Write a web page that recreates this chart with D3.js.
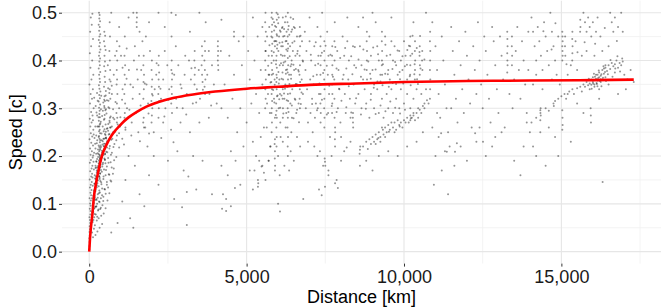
<!DOCTYPE html>
<html>
<head>
<meta charset="utf-8">
<script src="https://cdn.jsdelivr.net/npm/d3@7"></script>
<style>
  body { margin: 0; background: #fff; }
  text { font-family: "Liberation Sans", Arial, sans-serif; }
</style>
</head>
<body>
<div id="chart"></div>
<script>
// observations, [distance km, speed c], grouped by the region of the plot they sit in
const nearAxis = [[3,.005],[8,.012],[12,.02],[5,.028],[18,.034],[10,.041],[25,.047],[15,.053],[30,.06],[22,.066],[8,.072],[35,.078],[40,.085],[18,.09],[45,.096],[28,.101],[52,.107],[12,.112],[60,.118],[38,.123],[70,.129],[24,.134],[48,.14],[80,.146],[15,.151],[62,.157],[90,.163],[33,.168],[75,.174],[100,.18],[20,.186],[55,.192],[110,.197],[42,.203],[85,.21],[28,.216],[120,.222],[65,.228],[10,.235],[95,.241],[50,.248],[130,.255],[35,.262],[75,.27],[18,.278],[105,.285],[60,.292],[140,.3],[25,.31],[88,.32],[45,.33],[115,.34],[8,.35],[70,.36],[130,.37],[38,.385],[95,.4],[20,.415],[60,.43],[120,.445],[30,.46],[80,.475],[50,.49],[100,.498]];

const streakNear = [[310,.5],[330,.495],[320,.488],[345,.482],[300,.475],[335,.47],[315,.462],[350,.455],[325,.45],[305,.443],[340,.437],[318,.43],[355,.423],[328,.417],[310,.41],[345,.404],[322,.398],[336,.39],[302,.383],[350,.376],[315,.37],[330,.362],[342,.355],[308,.348],[325,.341],[355,.335],[318,.328],[338,.321],[300,.314],[347,.308],[312,.301],[330,.295],[322,.288],[340,.281],[305,.274],[352,.268],[318,.262],[334,.255],[345,.248],[310,.242],[326,.236],[338,.229],[300,.222],[350,.216],[316,.21],[330,.203],[342,.197],[308,.19],[324,.184],[336,.177],[312,.171],[346,.164],[320,.158],[333,.152],
  [480,.46],[505,.452],[470,.44],[495,.43],[520,.422],[485,.41],[500,.398],[475,.388],[515,.378],[490,.366],[505,.355],[470,.345],[528,.336],[488,.325],[500,.315],[478,.305],[512,.296],[492,.286],[468,.276],[520,.266],[485,.256],[500,.246],[475,.236],[510,.226],[490,.216],[505,.205],[482,.195],[515,.185]];

const lowBand = [[120,.03],[200,.035],[90,.04],[260,.042],[150,.048],[330,.05],[180,.055],[410,.058],[110,.062],[240,.065],[300,.07],[160,.072],[380,.075],[210,.078],[460,.08],[130,.083],[280,.086],[350,.089],[520,.091],[190,.094],[420,.097],[250,.1],[150,.102],[310,.105],[580,.107],[220,.11],[370,.112],[450,.115],[170,.117],[270,.12],[640,.122],[340,.124],[200,.127],[500,.13],[410,.132],[240,.135],[300,.137],[560,.14],[180,.142],[380,.145],[700,.147],[260,.15],[450,.152],[330,.155],[210,.157],[520,.16],[620,.162],[290,.164],[400,.167],[240,.17],[470,.172],[780,.174],[350,.176],[560,.178],[200,.18],[430,.183],[300,.185],[680,.187],[380,.19],[500,.192],[250,.194],[600,.196],[860,.198],[340,.2],[450,.202],[220,.205],[720,.207],[540,.209],[400,.211],[280,.214],[640,.216],[950,.218],[480,.22],[360,.222],[800,.225],[240,.227],[580,.229],[430,.231],[700,.234],[1050,.236],[520,.238],[300,.24],[880,.243],[620,.245],[390,.247],[760,.25],[460,.252],[1150,.255],[560,.257],[680,.26],[980,.262],
  [140,.09],[230,.095],[185,.108],[270,.113],[160,.125],[320,.128],[210,.138],[260,.143],[350,.148],[175,.16],[240,.165],[310,.169],[200,.175],[280,.179],[360,.182],[230,.188],[330,.193],[410,.197],[270,.206],[470,.213],[320,.219],[420,.224],[350,.233],[540,.237],[600,.253],
  [1300,.07],[1600,.12],[1050,.105],[1900,.16],[1450,.18],[2200,.14],[2500,.19],[1150,.15],[1750,.095],[3000,.17],[3400,.13],[2700,.11],[1250,.2],[2050,.2],[3600,.19],[3900,.12],[4200,.18],[900,.06],[1400,.05],[700,.04],[2800,.21],[1850,.22],[3300,.2],[3150,.157],[3100,.125],[3100,.056],[2950,.093]];

const coreNear = [[95,.083],[128,.117],[165,.091],[205,.131],[238,.108],[272,.149],[306,.122],[345,.163],[388,.141],[415,.178],[455,.157],[498,.193],[532,.171],[575,.208],[612,.186],[655,.221],[690,.203],[735,.236],[770,.219],[815,.251],[860,.233],[905,.266],[948,.248],[990,.281],[112,.138],[148,.172],[186,.153],[224,.189],[262,.168],[298,.204],[336,.183],[374,.219],[412,.199],[451,.236],[489,.214],[527,.251],[566,.231],[604,.267],[643,.246],[681,.283],[719,.262],[758,.298],[796,.277],[835,.313],[133,.066],[171,.079],[216,.094],[254,.073],[293,.088],[331,.104],[369,.092],[408,.118],[446,.106],[484,.131],[523,.121],[561,.146],[599,.134],[638,.161],[676,.149],[714,.176],[753,.163],[791,.191],[154,.207],[187,.226],[223,.243],[259,.262],[297,.281],[335,.266],[372,.298],[409,.284],[447,.312],[486,.301],[524,.327],[563,.317],[601,.342],[639,.332],[678,.356],[716,.347],[194,.262],[231,.291],[268,.316],[142,.245],[118,.275],
  [105,.155],[135,.188],[162,.142],[198,.216],[226,.176],[254,.233],[283,.198],[312,.252],[341,.213],[367,.272],[396,.233],[428,.262],[457,.221],[486,.278],[517,.244],[548,.289],[579,.258],[611,.302],[644,.274],[117,.097],[146,.128],[179,.114],[211,.152],[243,.139],[276,.176],[308,.158],[341,.195],[373,.171],[405,.207],[437,.186],[469,.226],[502,.204],[534,.239],[566,.218],[88,.112],[126,.201],[168,.238],[251,.285],[292,.262],[433,.295],[476,.318],[381,.326],[532,.298],[612,.316],[205,.305],[248,.332],[157,.322]];

const midLeft = [[650,.48],[660,.45],[640,.42],[655,.4],[665,.38],[645,.36],[650,.34],[670,.32],[640,.3],[658,.28],[648,.27],[662,.26],
  [880,.44],[870,.42],[890,.4],[875,.38],[885,.36],[870,.35],[895,.33],[880,.31],[865,.29],[890,.28],[878,.27],
  [1130,.45],[1120,.41],[1140,.39],[1125,.37],[1135,.35],[1115,.33],[1140,.31],[1130,.29],[1120,.28],
  [1730,.41],[1720,.39],[1740,.37],[1725,.355],[1735,.34],[1720,.32],[1745,.3],[1730,.28],[1715,.27],[1740,.26],
  [1990,.4],[1980,.38],[2000,.36],[1985,.345],[1995,.33],[1975,.315],[2005,.3],[1990,.285],[1980,.27],
  [2210,.41],[2200,.39],[2220,.375],[2205,.36],[2215,.345],[2195,.33],[2225,.315],[2210,.3],[2200,.28],
  [2620,.4],[2610,.38],[2630,.36],[2615,.345],[2625,.33],[2605,.31],[2630,.29],
  [3350,.42],[3340,.4],[3360,.385],[3350,.37],[3345,.35],[3580,.43],[3590,.41],[3570,.39],[3585,.37],[3600,.355],[3670,.44],[3680,.42],[3660,.4],[3675,.38],[3690,.36],[3665,.345],[3680,.33],
  [4090,.44],[4085,.43],[4095,.42],[4090,.41],[4085,.4],[4095,.39],
  [720,.33],[780,.37],[950,.3],[1010,.41],[1060,.34],[1200,.3],[1260,.38],[1310,.35],[1380,.32],[1420,.4],[1480,.29],[1540,.36],[1600,.33],[1650,.38],[1820,.35],[1870,.31],[1930,.42],[2080,.34],[2130,.37],[2280,.32],[2350,.36],[2420,.3],[2480,.39],[2540,.34],[2700,.37],[2760,.32],[2830,.39],[2900,.35],[2970,.3],[3030,.37],[3100,.33],[3170,.4],[3230,.36],[3290,.31],[3420,.34],[3480,.38],[3520,.32],[3750,.37],[3820,.33],[3900,.39],[3960,.35],[4050,.31],[4100,.38],[4180,.42],[760,.28],[1000,.265],[1150,.26],[1350,.27],[1560,.25],[1780,.26],[2050,.25],[2350,.27],[2600,.255],[2900,.27],[3200,.25],[3500,.27],[3800,.28],[4200,.3],[590,.39],[820,.41],[960,.43],[1060,.385],[1190,.425],[1450,.43],[1580,.41],[1690,.44],[2400,.42],[2750,.43],[3050,.41],[3800,.42],
  [700,.5],[950,.47],[1250,.49],[1600,.46],[1900,.48],[2400,.47],[2750,.495],[3200,.46],[3700,.48],[4200,.485],[4600,.46],[5200,.49],[5500,.47],[4900,.45],[1400,.5],[2200,.5],[3500,.5],[1800,.45],[1510,.5],[1515,.49],[1505,.48],[1510,.47],[2610,.5],[2615,.45],
  [1043,.318],[1187,.362],[1276,.297],[1392,.344],[1517,.381],[1632,.306],[1765,.352],[1884,.289],[2017,.327],[2141,.394],[2263,.341],[2388,.283],[2512,.318],[2637,.373],[2786,.301],[2931,.342],[3082,.287],[3247,.384],[3398,.312],[3611,.339],[3873,.306],[1104,.224],[1337,.243],[1612,.231],[1901,.247],[2288,.238],[2677,.229]];

const gapPoints = [[4300,.35],[4400,.28],[4450,.41],[4550,.32],[4600,.37],[4700,.25],[4750,.44],[4800,.3],[4850,.39],[4950,.34],[5000,.27],[5050,.42],[5100,.36],[5150,.31],[5200,.23],[5250,.4],[5300,.33],[5350,.45],[5400,.29],[5450,.38],[5500,.35],[5550,.26],[5600,.42],[5650,.31],[5700,.37],[5750,.22],[4500,.21],[4650,.19],[4900,.22],[5300,.2],[5500,.18],[4400,.16],[4800,.14],[5100,.17],[5600,.15],[4250,.12],[4350,.11],[5200,.13],[5700,.19],[5450,.24],[4600,.45],
  [4630,.133],[5360,.136],[5360,.15],[5370,.143],[6000,.1],[6060,.084],[4220,.09],[4350,.085],[4500,.095],[6800,.11],[7300,.13],[7600,.16],[5475,.178],[5550,.165],[5400,.19],[5250,.17]];

const denseMid = [[5600,.5],[5590,.48],[5610,.46],[5595,.44],[5605,.42],[5590,.4],[5600,.38],[5610,.36],[5595,.34],[5605,.32],[5590,.3],
  [5800,.5],[5790,.49],[5810,.475],[5800,.46],[5785,.45],[5815,.435],[5795,.42],[5805,.41],[5790,.395],[5810,.38],[5800,.37],[5785,.355],[5805,.34],[5795,.33],[5810,.315],[5800,.3],[5790,.29],[5805,.27],[5795,.25],
  [5950,.5],[5960,.485],[5940,.47],[5955,.455],[5945,.44],[5965,.425],[5950,.41],[5940,.4],[5960,.385],[5950,.37],[5945,.355],[5955,.34],[5965,.325],[5940,.31],[5950,.295],[5960,.28],[5945,.26],[5955,.24],[5950,.22],[5900,.21],[5895,.195],[5905,.18],[5890,.225],[5900,.235],
  [6150,.49],[6140,.47],[6160,.45],[6150,.43],[6145,.41],[6155,.39],[6140,.375],[6160,.36],[6150,.34],[6145,.32],[6155,.3],[6150,.28],
  [6310,.5],[6300,.48],[6320,.465],[6305,.45],[6315,.435],[6300,.42],[6310,.405],[6320,.39],[6305,.375],[6315,.36],[6300,.345],[6310,.33],[6320,.315],[6305,.3],[6310,.28],[6300,.26],[6315,.24],[6305,.22],[6310,.2],
  [6690,.47],[6680,.45],[6700,.43],[6685,.41],[6695,.39],[6680,.37],[6700,.355],[6690,.34],[6685,.32],[6695,.3],
  [5650,.45],[5700,.41],[5720,.37],[5680,.33],[5740,.29],[5870,.48],[5880,.44],[5860,.4],[5890,.36],[5870,.32],[5900,.28],[6020,.49],[6030,.45],[6010,.42],[6050,.39],[6040,.36],[6060,.33],[6020,.3],[6070,.27],[6080,.24],[6220,.48],[6240,.44],[6210,.41],[6250,.38],[6230,.35],[6200,.32],[6260,.29],[6240,.26],[6400,.49],[6420,.46],[6380,.43],[6430,.4],[6410,.37],[6450,.34],[6390,.31],[6440,.28],[6420,.25],[6500,.47],[6520,.44],[6550,.41],[6510,.38],[6560,.35],[6530,.32],[6580,.29],[6600,.45],[6620,.42],[6640,.38],[6610,.35],[6650,.31],[6760,.44],[6780,.4],[6750,.36],[6790,.33],[5720,.47],[6100,.43],[6350,.37],[6080,.46],[5900,.43],[6470,.42],[6270,.46],[5640,.26],[5760,.22],[6000,.2],[6200,.18],[5900,.17],[6400,.21],[6600,.24],[5700,.19],[6150,.23],[6500,.19],[6700,.22],[6350,.17],[6050,.16],
  [5830,.487],[5875,.463],[5912,.441],[5968,.452],[6004,.478],[6047,.437],[6088,.412],[6125,.468],[6177,.396],[6203,.451],[6262,.423],[6288,.381],[6337,.472],[6369,.409],[6412,.362],[6455,.437],[6488,.391],[6532,.468],[6571,.351],[6609,.414],[6655,.377],[6712,.452],[6744,.333],[6791,.398],[5845,.338],[5883,.312],[5927,.286],[5985,.327],[6023,.352],[6066,.301],[6108,.327],[6167,.289],[6219,.341],[6276,.317],[6331,.292],[6382,.331],[6437,.306],[6492,.279],[6547,.318],[6603,.297],[6665,.271],[6722,.309],[5990,.497],[6245,.492],[6480,.487],[5725,.432],[5685,.389],[5758,.354],
  [5818,.448],[5862,.417],[5904,.472],[5933,.392],[5977,.433],[6012,.376],[6058,.463],[6093,.394],[6134,.438],[6189,.466],[6227,.398],[6268,.441],[6318,.425],[6356,.454],[6398,.388],[6447,.465],[5842,.372],[5893,.349],[5961,.364],[6036,.319],[6112,.362],[6189,.331],[6247,.372],[6361,.351],[6425,.392],[6563,.382]];

const centre = [[6850,.46],[6900,.42],[6870,.38],[6920,.34],[6880,.3],[6950,.27],[7000,.44],[7050,.4],[7020,.36],[7080,.32],[7030,.29],[7100,.25],[7150,.43],[7180,.39],[7130,.35],[7200,.31],[7170,.28],[7250,.47],[7280,.41],[7230,.37],[7300,.33],[7260,.3],
  [7350,.45],[7345,.43],[7355,.41],[7350,.39],[7345,.37],[7355,.35],[7350,.33],[7345,.31],[7355,.29],[7350,.27],[7470,.44],[7465,.42],[7475,.4],[7470,.38],[7465,.36],[7475,.34],[7470,.32],[7465,.3],[7475,.28],[7470,.26],
  [7560,.46],[7600,.41],[7580,.37],[7620,.33],[7590,.29],[7720,.43],[7715,.41],[7725,.39],[7720,.37],[7715,.35],[7725,.33],[7720,.31],[7715,.29],[7790,.44],[7795,.4],[7785,.36],[7790,.32],[7795,.28],
  [7880,.42],[7920,.38],[7950,.34],[7900,.3],[7980,.27],[8050,.45],[8100,.41],[8080,.37],[8120,.33],[8150,.29],[8200,.44],[8250,.4],[8230,.36],[8280,.32],[8300,.28],[8380,.43],[8420,.39],[8400,.35],[8450,.31],[7000,.49],[7400,.5],[7800,.48],[8200,.49],
  [6950,.23],[7150,.22],[7250,.2],[7330,.21],[7490,.188],[7480,.195],[7500,.18],[7810,.22],[7805,.235],[7815,.25],[7810,.26],[8180,.218],[8380,.27],[8385,.26],[8375,.28],[8380,.29],[8600,.213],[8610,.22],[8590,.205],[7385,.118],[7490,.136],[7810,.143],[7900,.133],[7860,.15],[7430,.18],[7600,.17],[7700,.2],[8000,.19],[8100,.21],[8300,.23],[8000,.24],[7650,.24],
  [7040,.412],[7118,.367],[7196,.438],[7273,.393],[7315,.352],[7392,.416],[7431,.374],[7508,.431],[7547,.389],[7626,.347],[7663,.412],[7742,.366],[7818,.428],[7857,.383],[7935,.341],[7973,.405],[8052,.361],[8129,.426],[8168,.383],[8246,.346],[8323,.409],[8361,.371],[8438,.428],[8477,.385],[7082,.309],[7237,.296],[7394,.318],[7548,.287],[7704,.305],[7859,.292],[8013,.316],[8168,.302],[8324,.291],[8479,.321]];

const centreRight = [[8550,.47],[8600,.43],[8650,.39],[8700,.36],[8820,.46],[8815,.44],[8825,.42],[8820,.4],[8815,.38],[8825,.36],[8900,.45],[8950,.41],[9000,.38],[9050,.35],[9100,.48],[9150,.43],[9200,.4],[9250,.37],[9300,.46],[9295,.44],[9305,.42],[9300,.4],[9295,.39],[9305,.37],[9400,.45],[9450,.41],[9500,.38],[9550,.36],[9600,.44],[9650,.4],[9700,.43],[9750,.39],[9800,.37],[9850,.42],[9900,.4],[9950,.38],[10000,.44],[10050,.41],[10100,.36],
  [10200,.45],[10195,.43],[10205,.41],[10200,.39],[10195,.37],[10205,.355],[10350,.44],[10345,.42],[10355,.4],[10350,.38],[10345,.36],[10500,.43],[10495,.41],[10505,.39],[10500,.37],[10580,.42],[10575,.4],[10585,.38],[10830,.46],[10825,.44],[10835,.42],[10830,.4],[10825,.38],[10835,.36],[10830,.34],[10825,.32],[9000,.5],[9600,.49],[10300,.48],[10700,.5],[8700,.49],
  [8550,.33],[8650,.3],[8750,.34],[8800,.31],[8900,.28],[8950,.33],[9050,.3],[9150,.34],[9200,.29],[9300,.32],[9350,.28],[9450,.33],[9500,.3],[9600,.34],[9650,.29],[9750,.32],[9850,.3],[9900,.34],[10000,.31],[10100,.33],[10200,.3],[10300,.32],[10400,.34],[10450,.3],[10550,.33],[10650,.31],[10700,.34],[10200,.285],[10300,.29],
  [8700,.22],[8800,.23],[8850,.215],[8900,.235],[8950,.225],[9000,.24],[9050,.23],[9100,.245],[9150,.235],[9200,.25],[9250,.24],[9300,.26],[9330,.255],[9350,.245],[9400,.26],[9450,.25],[9500,.265],[9550,.255],[9600,.27],[9650,.26],[9700,.27],[9750,.255],[9800,.275],[9850,.265],[9900,.27],[9950,.26],[10000,.275],[10050,.27],[10100,.28],[10150,.27],[10200,.275],[10250,.28],[10300,.285],[10350,.275],[10400,.29],[10450,.28],[10500,.297],[10550,.29],[10600,.305],[10650,.3],[10730,.317],[10780,.31],[9100,.225],[9400,.24],[9700,.25],[9250,.23],
  [8800,.19],[9200,.2],[9500,.21],[9800,.2],[10100,.22],[10400,.23],[9000,.17],[8600,.18],[10600,.25],[10900,.26],
  [8555,.402],[8632,.366],[8709,.423],[8748,.381],[8866,.398],[8943,.362],[9021,.427],[9098,.381],[9176,.413],[9253,.356],[9331,.392],[9409,.433],[9486,.371],[9563,.412],[9641,.353],[9718,.397],[9796,.421],[9873,.361],[9951,.409],[10028,.388],[10106,.422],[10183,.367],[10261,.414],[10338,.392],[10416,.361],[10493,.418],[10571,.355],[10648,.402],[8633,.287],[8788,.299],[8944,.318],[9099,.288],[9254,.306],[9410,.294],[9565,.314],[9720,.301],[9875,.289],[10031,.297],[9187,.238],[9522,.251],[9864,.262],[10217,.279],
  [9318,.348],[9402,.372],[9517,.345],[9633,.382],[9748,.351],[9862,.376],[9977,.352],[10094,.391],[10212,.348],[10328,.371],[10443,.351],[10525,.383],[9156,.356],[9040,.343],[8925,.372],[10158,.431],[10272,.452],[10406,.426],[10511,.451]];

const farGap = [[10900,.48],[11000,.43],[11050,.38],[11100,.33],[11150,.28],[11200,.45],[11250,.4],[11300,.35],[11350,.3],[11400,.25],[11450,.22],[11500,.47],[11550,.42],[11600,.37],[11650,.32],[11700,.27],[11750,.44],[11800,.39],[11850,.34],[11900,.29],[11950,.46],[12000,.41],[12050,.36],[12100,.31],[12150,.26],[12200,.43],[12250,.38],[12300,.33],[12350,.48],[12400,.4],[12450,.35],[12500,.3],[12550,.45],[12600,.42],[12650,.37],[12700,.32],[12750,.27],[12800,.47],[12850,.44],[12900,.39],[12950,.34],[13000,.29],[13050,.45],[13100,.41],[13150,.36],
  [13280,.46],[13285,.445],[13290,.43],[13280,.415],[13285,.4],[13290,.39],[13280,.375],[13430,.45],[13425,.43],[13435,.41],[13430,.39],[13350,.33],[13450,.3],[13500,.36],[13550,.42],[13600,.47],[13650,.38],[13700,.32],[13750,.44],[13800,.4],[13850,.35],[13900,.29],[13950,.46],
  [11000,.2],[11100,.24],[11300,.21],[11200,.17],[10950,.14],[11400,.12],[11600,.18],[11800,.22],[12000,.19],[12300,.23],[12600,.2],[12900,.24],[13200,.26],[11050,.29],[11500,.3],[12400,.26],[12800,.22],[13100,.25],[11180,.248],[11680,.227],[11620,.209],[11360,.209],[12260,.248],[12510,.23]];

const farRight = [[14050,.49],[14100,.46],[14150,.43],[14200,.4],[14250,.47],[14300,.44],[14350,.41],[14400,.38],[14450,.48],[14500,.45],[14550,.42],[14600,.39],[14650,.5],[14700,.46],[14750,.43],[14800,.4],[14850,.37],[14900,.45],[15030,.46],[15035,.45],[15040,.44],[15030,.43],[15035,.42],[15040,.41],[15030,.4],[15120,.45],[15115,.43],[15125,.41],[15350,.46],[15345,.445],[15355,.43],[15350,.415],[15345,.4],[15450,.44],[15500,.38],[15600,.485],[15605,.47],[15595,.46],[15700,.5],[15750,.48],[15800,.46],[15850,.49],[15900,.47],[15950,.45],[16000,.48],[16100,.46],[16150,.49],[16240,.45],[16550,.5],[16600,.48],[16650,.46],[16700,.49],[16800,.47],[16900,.5],[16950,.46],[15200,.37],[15300,.39],[15650,.41],[15800,.42],[16050,.41],[16300,.42],[16400,.39],[16500,.43],[14100,.35],[14400,.34],[14700,.36],[14950,.35],[15200,.33],[13950,.38],[14200,.37],
  [14050,.27],[14200,.28],[14330,.296],[14335,.29],[14340,.3],[14345,.285],[14330,.275],[14500,.3],[14600,.295],[14750,.31],[14760,.305],[14800,.315],[14900,.32],[15000,.325],[15100,.33],[15150,.32],[15250,.335],[15350,.34],[15400,.33],[15500,.342],[15600,.345],[15650,.335],[15700,.35],[15750,.345],[15800,.355],[15850,.348],[15900,.352],[15950,.36],[16000,.355],[16050,.35],[16100,.362],[16150,.358],[16200,.365],[16250,.355],[16050,.345],[16100,.37],[16200,.375],[16250,.368],[16300,.38],[16350,.372],[16400,.385],[16450,.378],[16500,.39],[16550,.382],[16600,.395],[16650,.388],[16700,.392],[16750,.4],[16800,.385],[16850,.395],[16900,.39],[16950,.398],[16150,.37],[16300,.36],[15900,.34],[16000,.365],[16400,.365],[16700,.375],[17000,.37],[17100,.36],[17200,.38],[17300,.355],[16200,.34],[16500,.35],
  [15030,.296],[15035,.28],[15040,.265],[15030,.255],[15930,.3],[15935,.285],[15940,.27],[14330,.25],[14000,.25],[13900,.27],[14600,.26],[15500,.31],[16200,.32],[15700,.29],[14800,.24],[13800,.22],[14200,.2],[14500,.18],[13700,.16],[14900,.2],[16800,.33],[17050,.34],[15300,.23],[16310,.146],[14100,.22],[13500,.19],
  [15872,.362],[15963,.341],[16034,.372],[16127,.351],[16188,.379],[16273,.346],[16336,.388],[16417,.357],[16478,.371],[16561,.401],[16624,.366],[16712,.383],[16781,.409],[16864,.377],[16932,.404],[14428,.461],[14688,.423],[14812,.478],[15162,.392],[15512,.417],[15738,.438],[16072,.435],[16379,.468],[16764,.441],
  [16008,.352],[16066,.366],[16118,.353],[16163,.363],[16218,.357],[16271,.371],[16322,.364],[16386,.376],[15952,.349],[16145,.346],[16243,.361],[16352,.383]];

// fitted curve
const fitKm =    [0, 25, 50, 100, 150, 200, 300, 400, 550, 700, 850, 1000, 1250, 1500, 1800, 2200, 2700, 3300, 4000, 5000, 6000, 7000, 8500, 10000, 12000, 14000, 16000, 17300];
const fitSpeed = [0, .028, .048, .078, .115, .137, .172, .2, .224, .242, .255, .266, .281, .292, .303, .313, .322, .329, .335, .341, .345, .349, .352, .355, .357, .358, .359, .36];

const xTicks = [0, 5000, 10000, 15000];
const yTicks = [0, 0.1, 0.2, 0.3, 0.4, 0.5];

const points = [].concat(nearAxis, streakNear, lowBand, coreNear, midLeft, gapPoints, denseMid, centre, centreRight, farGap, farRight);
const fit = fitKm.map((k, i) => [k, fitSpeed[i]]);

const width = 665, height = 307;
const panel = { left: 62, right: 661, top: 0.75, bottom: 263.6 };

// ggplot style expansion, 5% on x, 2.5% on y
const xMax = d3.max(fitKm), xPad = xMax * 0.05;
const x = d3.scaleLinear().domain([-xPad, xMax + xPad]).range([panel.left, panel.right]);
const y = d3.scaleLinear().domain([-0.025, 0.525]).range([panel.bottom, panel.top]);

const svg = d3.select("#chart").append("svg")
  .attr("width", width)
  .attr("height", height);

// grid
const grid = svg.append("g");
const xMinor = [2500, 7500, 12500, 17500];
const yMinor = [0.05, 0.15, 0.25, 0.35, 0.45];
grid.selectAll(".xmin").data(xMinor).enter().append("line")
  .attr("x1", d => x(d)).attr("x2", d => x(d))
  .attr("y1", panel.top).attr("y2", panel.bottom)
  .attr("stroke", "#f0f0f0").attr("stroke-width", 0.8);
grid.selectAll(".ymin").data(yMinor).enter().append("line")
  .attr("x1", panel.left).attr("x2", panel.right)
  .attr("y1", d => y(d)).attr("y2", d => y(d))
  .attr("stroke", "#f0f0f0").attr("stroke-width", 0.8);
grid.selectAll(".xmaj").data(xTicks).enter().append("line")
  .attr("x1", d => x(d)).attr("x2", d => x(d))
  .attr("y1", panel.top).attr("y2", panel.bottom)
  .attr("stroke", "#e6e6e6").attr("stroke-width", 1.1);
grid.selectAll(".ymaj").data(yTicks).enter().append("line")
  .attr("x1", panel.left).attr("x2", panel.right)
  .attr("y1", d => y(d)).attr("y2", d => y(d))
  .attr("stroke", "#e6e6e6").attr("stroke-width", 1.1);

// points
svg.append("g").selectAll("circle")
  .data(points)
  .enter().append("circle")
  .attr("cx", d => x(d[0]))
  .attr("cy", d => y(d[1]))
  .attr("r", 1)
  .attr("fill", "#000")
  .attr("fill-opacity", 0.42);

// fit line
const line = d3.line()
  .x(d => x(d[0]))
  .y(d => y(d[1]))
  .curve(d3.curveMonotoneX);

svg.append("path")
  .datum(fit)
  .attr("d", line)
  .attr("fill", "none")
  .attr("stroke", "#ff0000")
  .attr("stroke-width", 2.6);

// axes
const xAxis = svg.append("g")
  .attr("transform", `translate(0,${panel.bottom})`)
  .call(d3.axisBottom(x).tickValues(xTicks).tickFormat(d3.format(",")).tickSize(3).tickPadding(4));
const yAxis = svg.append("g")
  .attr("transform", `translate(${panel.left},0)`)
  .call(d3.axisLeft(y).tickValues(yTicks).tickFormat(d3.format(".1f")).tickSize(3).tickPadding(2));

[xAxis, yAxis].forEach(a => {
  a.select(".domain").remove();
  a.selectAll(".tick line").attr("stroke", "#333");
  a.selectAll(".tick text")
    .attr("fill", "#1a1a1a")
    .style("font-size", "18px")
    .style("font-family", '"Liberation Sans", Arial, sans-serif');
});

svg.append("text")
  .attr("x", (panel.left + panel.right) / 2)
  .attr("y", 303)
  .attr("text-anchor", "middle")
  .attr("fill", "#000")
  .style("font-size", "18px")
  .text("Distance [km]");

svg.append("text")
  .attr("transform", `translate(21.5,${(panel.top + panel.bottom) / 2}) rotate(-90)`)
  .attr("text-anchor", "middle")
  .attr("fill", "#000")
  .style("font-size", "18px")
  .text("Speed [c]");
</script>
</body>
</html>
